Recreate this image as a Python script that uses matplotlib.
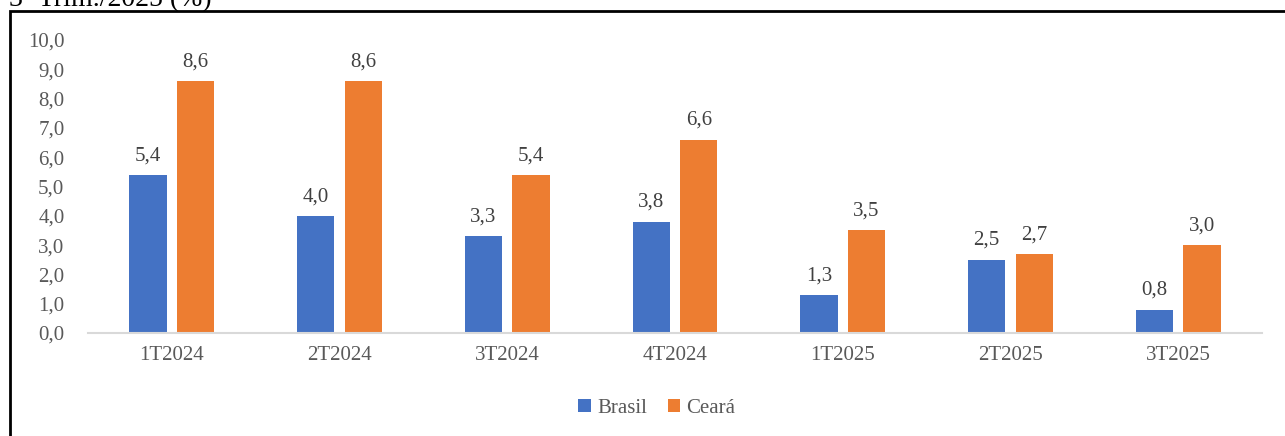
import matplotlib
matplotlib.use("Agg")
import matplotlib.pyplot as plt
from matplotlib.patches import Rectangle
import numpy as np

categories = ["1T2024", "2T2024", "3T2024", "4T2024", "1T2025", "2T2025", "3T2025"]
brasil = [5.4, 4.0, 3.3, 3.8, 1.3, 2.5, 0.8]
ceara = [8.6, 8.6, 5.4, 6.6, 3.5, 2.7, 3.0]
series_names = ["Brasil", "Ceará"]
yticks = [0, 1, 2, 3, 4, 5, 6, 7, 8, 9, 10]
title = "3º Trim./2025 (%)"

BLUE = "#4472C4"
ORANGE = "#ED7D31"
GRAY = "#595959"
DARK = "#404040"
FS = 15

plt.rcParams['font.family'] = ['Liberation Serif', 'DejaVu Serif']

W, H = 1285, 436
fig = plt.figure(figsize=(W / 100, H / 100), dpi=100)
ax = fig.add_axes([88 / W, 103 / H, (1262 - 88) / W, 293 / H])

x = np.arange(len(categories))
bw = 0.222
off = 0.142
b1 = ax.bar(x - off, brasil, bw, color=BLUE, label=series_names[0])
b2 = ax.bar(x + off, ceara, bw, color=ORANGE, label=series_names[1])

for bars, vals in ((b1, brasil), (b2, ceara)):
    for r, v in zip(bars, vals):
        ax.annotate(f"{v:.1f}".replace(".", ","),
                    (r.get_x() + r.get_width() / 2, r.get_height()),
                    xytext=(0, 7), textcoords="offset points",
                    ha="center", va="bottom", fontsize=FS, color=DARK)

ax.set_xlim(-0.5, len(categories) - 0.5)
ax.set_ylim(0, 10)
ax.set_yticks(yticks)
ax.set_yticklabels([f"{t:.1f}".replace(".", ",") for t in yticks])
ax.set_xticks(x)
ax.set_xticklabels(categories)
ax.tick_params(axis="y", length=0, pad=17, labelsize=FS, labelcolor=GRAY)
ax.tick_params(axis="x", length=0, pad=9, labelsize=FS, labelcolor=GRAY)
for s in ("top", "right", "left"):
    ax.spines[s].set_visible(False)
ax.spines["bottom"].set_color("#D9D9D9")
ax.spines["bottom"].set_linewidth(1.5)

leg = fig.legend(loc="center", bbox_to_anchor=(657 / W, 1 - 408 / H), ncol=2,
                 frameon=False, fontsize=FS, handlelength=0.6, handleheight=0.6,
                 handletextpad=0.3, columnspacing=1.0)
for t in leg.get_texts():
    t.set_color(GRAY)

# outer border (partially cropped, as in the reference)
fig.patches.append(Rectangle((10 / W, -0.1), 1.2, (H - 11.5) / H + 0.1,
                             transform=fig.transFigure, fill=False,
                             edgecolor="black", linewidth=2))
fig.text(9 / W, 1 - 6 / H, title, ha="left", va="baseline", fontsize=20, color="black")

fig.savefig("out.png", dpi=100)
